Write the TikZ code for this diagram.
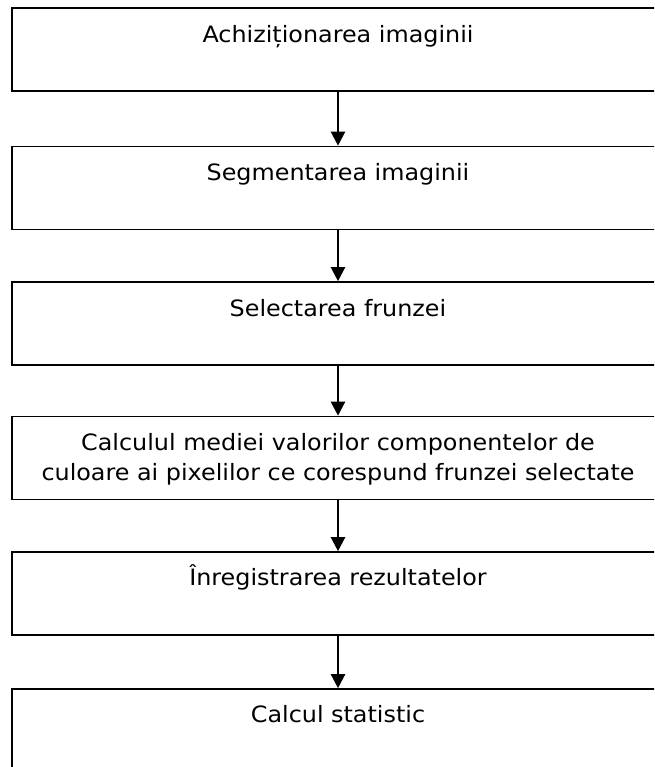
\documentclass[tikz,border=0pt]{standalone}
\usepackage{fontspec}
\setmainfont{DejaVu Sans}[FakeStretch=1.06]
\usetikzlibrary{arrows.meta,positioning}

\begin{document}
\begin{tikzpicture}[x=1pt, y=1pt, >={Triangle[width=14pt,length=14pt]},
    stepbox/.style={draw, line width=1.6pt, minimum width=652pt, minimum height=83pt, inner sep=0pt},
    steptext/.style={anchor=north, inner sep=0pt, align=center, font=\fontsize{22.5}{30}\selectfont},
    stepline/.style={steptext, text height=17pt},
    flow/.style={->, line width=2.2pt}]
    % cadrul desenului
    \useasboundingbox (0, 0) rectangle (654, -767);
    \clip (0, 0) rectangle (654, -767);

    % blocurile etapelor
    \node[stepbox] (b1) at (338, -49.5) {};
    \node[stepbox] (b2) at (338, -188) {};
    \node[stepbox] (b3) at (338, -323.5) {};
    \node[stepbox] (b4) at (338, -458) {};
    \node[stepbox] (b5) at (338, -593.5) {};
    \node[stepbox] (b6) at (338, -730.5) {};

    % textele etapelor
    \node[stepline, below=18pt of b1.north] (t1) {Achiziționarea imaginii};
    \node[stepline, below=18pt of b2.north] (t2) {Segmentarea imaginii};
    \node[stepline, below=18pt of b3.north] (t3) {Selectarea frunzei};
    \node[steptext, below=18pt of b4.north] (t4) {Calculul mediei valorilor componentelor de\\culoare ai pixelilor ce corespund frunzei selectate};
    \node[stepline, below=17pt of b5.north] (t5) {Înregistrarea rezultatelor};
    \node[stepline, below=17pt of b6.north] (t6) {Calcul statistic};

    % sagetile dintre etape
    \foreach \a/\b in {b1/b2, b2/b3, b3/b4, b4/b5, b5/b6} {
        \draw[flow] (\a.south) -- (\b.north);
    }
\end{tikzpicture}
\end{document}
